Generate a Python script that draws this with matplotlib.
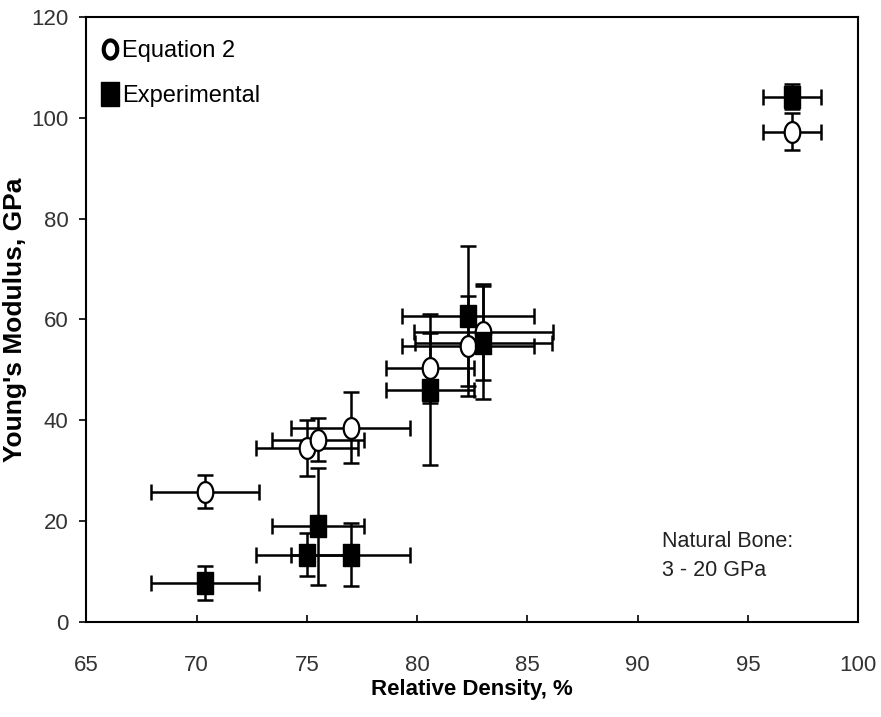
import numpy as np
import matplotlib
matplotlib.use("Agg")
import matplotlib.pyplot as plt
from matplotlib.lines import Line2D

plt.rcParams['font.family'] = ['Liberation Sans', 'DejaVu Sans']

# Equation 2 (open circles)
eq_x = [70.4, 75.0, 75.5, 77.0, 80.6, 82.3, 83.0, 97.0]
eq_y = [25.8, 34.5, 36.1, 38.5, 50.4, 54.7, 57.5, 97.3]
eq_xerr = [2.45, 2.3, 2.1, 2.7, 2.0, 3.0, 3.15, 1.3]
eq_yerr = [3.3, 5.5, 4.3, 7.0, 7.0, 10.0, 9.5, 3.7]

# Experimental (filled squares)
ex_x = [70.4, 75.0, 75.5, 77.0, 80.6, 82.3, 83.0, 97.0]
ex_y = [7.7, 13.3, 18.9, 13.3, 46.0, 60.7, 55.4, 104.2]
ex_xerr = [2.45, 2.3, 2.1, 2.7, 2.0, 3.0, 3.1, 1.3]
ex_yerr = [3.4, 4.2, 11.6, 6.2, 15.0, 13.9, 11.2, 2.5]

# tall shapes like in the original picture
t = np.linspace(0, 2 * np.pi, 60)
ellipse = np.column_stack([0.75 * np.cos(t), np.sin(t)])
rect = [(-0.75, -1), (0.75, -1), (0.75, 1), (-0.75, 1), (-0.75, -1)]

fig = plt.figure(figsize=(8.81, 7.17), dpi=100)
ax = fig.add_axes([0.098, 0.133, 0.876, 0.843])

ax.errorbar(eq_x, eq_y, xerr=eq_xerr, yerr=eq_yerr, fmt='none', ecolor='black',
            elinewidth=1.8, capsize=6, capthick=1.8, zorder=2)
ax.errorbar(ex_x, ex_y, xerr=ex_xerr, yerr=ex_yerr, fmt='none', ecolor='black',
            elinewidth=1.8, capsize=6, capthick=1.8, zorder=2)
ax.plot(eq_x, eq_y, linestyle='none', marker=ellipse, markersize=15,
        markerfacecolor='white', markeredgecolor='black', markeredgewidth=1.6, zorder=3)
ax.plot(ex_x, ex_y, linestyle='none', marker=rect, markersize=16,
        markerfacecolor='black', markeredgecolor='black', zorder=4)

ax.set_xlim(65, 100)
ax.set_ylim(0, 120)
ax.set_xticks(range(65, 101, 5))
ax.set_yticks(range(0, 121, 20))
ax.tick_params(axis='x', direction='in', length=5, width=1.2, labelsize=16, pad=24)
ax.tick_params(axis='y', direction='out', length=5, width=1.2, labelsize=16, pad=8)
for lab in ax.get_xticklabels() + ax.get_yticklabels():
    lab.set_color('#333333')
for s in ax.spines.values():
    s.set_linewidth(1.5)

ax.set_xlabel('Relative Density, %', fontsize=16, fontweight='bold', labelpad=2)
ax.set_ylabel("Young's Modulus, GPa", fontsize=19, fontweight='bold')
ax.yaxis.set_label_coords(-0.077, 0.5)

handles = [Line2D([], [], linestyle='none', marker=ellipse, markersize=13,
                  markerfacecolor='white', markeredgecolor='black', markeredgewidth=3),
           Line2D([], [], linestyle='none', marker=rect, markersize=17,
                  markerfacecolor='black', markeredgecolor='black')]
ax.legend(handles, ['Equation 2', 'Experimental'], loc='upper left', frameon=False,
          fontsize=17, handlelength=0.6, handletextpad=0.2, labelspacing=1.0,
          borderaxespad=0.3, bbox_to_anchor=(0.0, 0.99))

ax.text(91.1, 18.0, 'Natural Bone:\n3 - 20 GPa', fontsize=15.5, color='#222222',
        ha='left', va='top', linespacing=1.5)

fig.savefig('out.png', dpi=100)
